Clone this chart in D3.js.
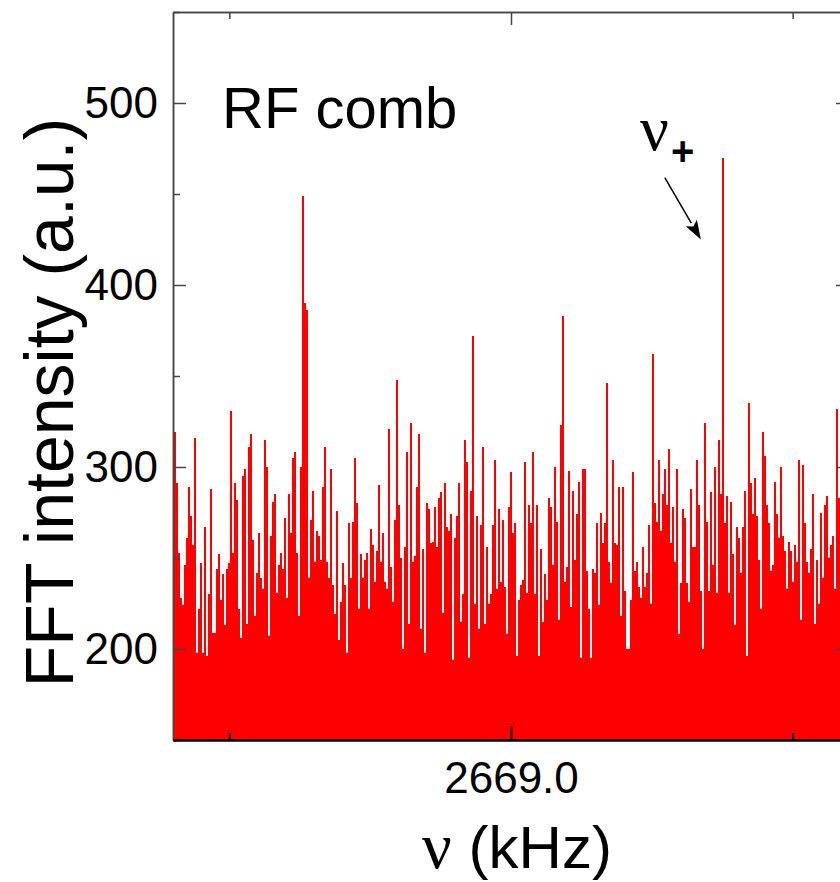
<!DOCTYPE html>
<html><head><meta charset="utf-8">
<script src="https://cdn.jsdelivr.net/npm/d3@7"></script>
<style>body{margin:0;background:#fff;} svg{display:block;}</style>
</head><body><svg id="chart" width="840" height="882"></svg>
<script>
// ---- data ----
const freqStart = 2668.94;   // kHz, left edge of the plotted window
const freqEnd = 2669.06;     // kHz, right edge
const intensity = [
278,319,291,253,228,224,246,261,289,273,
257,316,198,222,247,198,267,196,230,288,
209,209,244,252,227,241,213,244,247,331,
253,291,282,222,206,295,299,214,311,318,
260,218,242,264,239,233,315,300,207,262,
281,285,231,246,253,244,272,228,285,264,
305,308,253,218,300,449,390,386,239,271,
287,248,265,262,249,289,311,248,239,299,
235,219,276,205,226,247,235,198,269,239,
270,305,280,222,252,239,249,253,222,266,
257,237,254,290,248,264,237,233,321,245,
226,271,348,279,250,200,256,308,214,324,
248,251,289,318,211,255,198,280,277,258,
259,278,256,283,286,220,291,267,265,274,
194,261,273,291,215,230,315,303,195,287,
372,225,273,211,268,311,214,256,225,230,
268,304,233,277,237,271,234,208,278,297,
264,269,196,227,235,238,303,231,279,269,
308,230,279,196,255,215,241,227,283,278,
246,300,270,216,323,383,237,245,298,223,
287,249,274,292,195,299,299,243,222,195,
244,242,269,224,275,258,269,346,248,236,
304,258,257,289,218,289,232,200,200,227,
297,243,248,234,228,256,234,242,268,225,
362,280,270,304,265,285,299,279,310,258,
278,248,299,208,236,277,272,236,226,288,
256,256,304,279,232,200,324,270,232,286,
246,300,231,315,285,470,269,284,231,281,
252,213,267,261,242,267,287,196,335,291,
274,294,273,249,222,319,306,279,269,243,
246,292,274,261,300,262,254,233,259,254,
237,257,248,304,216,301,269,248,242,255,
285,214,249,225,275,239,279,284,250,257,
262,233,332,283,249,280,260,255
];
const freqStep = (freqEnd - freqStart) / intensity.length;
const frequency = intensity.map((_, i) => freqStart + i * freqStep);

const yDomain = [150, 550];
const yTicksMajor = [200, 300, 400, 500];
const yTicksMinor = [150, 250, 350, 450, 550];
const xTicksMajor = [2669.0];
const xTicksMinor = [2668.95, 2669.05];
const xTickLabels = ["2669.0"];

const xTitle = ["\u03BD", " (kHz)"];
const yTitle = "FFT intensity (a.u.)";
const panelLabel = "RF comb";
const peakLabel = ["\u03BD", "+"];
// annotation anchor points in data units [kHz, a.u.]
const peakLabelPos = [2669.0229, 474];
const arrowFrom = [2669.0273, 459];
const arrowTo = [2669.0337, 425];
const panelLabelPos = [2668.9487, 486];

// ---- layout ----
const W = 840, H = 882;
const mLeft = 173, mRight = 849, mTop = 12, mBottom = 740;
const sans = "'Liberation Sans', Arial, Helvetica, sans-serif";
const serif = "'Liberation Serif', 'Times New Roman', serif";

const svg = d3.select("#chart");
const x = d3.scaleLinear().domain([freqStart, freqEnd]).range([mLeft, mRight]);
const y = d3.scaleLinear().domain(yDomain).range([mBottom, mTop]);

svg.append("defs").append("clipPath").attr("id", "plotclip")
  .append("rect").attr("x", mLeft).attr("y", mTop)
  .attr("width", mRight - mLeft).attr("height", mBottom - mTop);

const barW = Math.abs(x(freqStart + freqStep) - x(freqStart));
svg.append("g").attr("clip-path", "url(#plotclip)")
  .selectAll("rect").data(intensity).join("rect")
  .attr("x", (d, i) => x(frequency[i]) - barW / 2)
  .attr("width", barW)
  .attr("y", d => y(d))
  .attr("height", d => y(yDomain[0]) - y(d))
  .attr("fill", "#ff0000")
  .attr("shape-rendering", "crispEdges");

// ---- axes ----
function styleAxis(g, color, width) {
  g.select(".domain").attr("stroke", color).attr("stroke-width", width);
  g.selectAll(".tick line").attr("stroke", color).attr("stroke-width", width);
  g.selectAll("text").attr("font-family", sans).attr("font-size", 44).attr("fill", "#000");
}
// left
svg.append("g").attr("transform", `translate(${mLeft},0)`)
  .call(d3.axisLeft(y).tickValues(yTicksMinor).tickSize(-7).tickSizeOuter(0).tickFormat(""))
  .call(g => styleAxis(g, "#444", 1.5));
svg.append("g").attr("transform", `translate(${mLeft},0)`)
  .call(d3.axisLeft(y).tickValues(yTicksMajor).tickSize(-13).tickSizeOuter(0).tickPadding(15).tickFormat(d3.format("d")))
  .call(g => styleAxis(g, "#444", 1.5));
// right
svg.append("g").attr("transform", `translate(${mRight},0)`)
  .call(d3.axisRight(y).tickValues(yTicksMinor).tickSize(-7).tickSizeOuter(0).tickFormat(""))
  .call(g => styleAxis(g, "#444", 1.5));
svg.append("g").attr("transform", `translate(${mRight},0)`)
  .call(d3.axisRight(y).tickValues(yTicksMajor).tickSize(-13).tickSizeOuter(0).tickFormat(""))
  .call(g => styleAxis(g, "#444", 1.5));
// top
svg.append("g").attr("transform", `translate(0,${mTop})`)
  .call(d3.axisTop(x).tickValues(xTicksMinor).tickSize(-7).tickSizeOuter(0).tickFormat(""))
  .call(g => styleAxis(g, "#444", 1.5));
svg.append("g").attr("transform", `translate(0,${mTop})`)
  .call(d3.axisTop(x).tickValues(xTicksMajor).tickSize(-13).tickSizeOuter(0).tickFormat(""))
  .call(g => styleAxis(g, "#444", 1.5));
// bottom
svg.append("g").attr("transform", `translate(0,${mBottom})`)
  .call(d3.axisBottom(x).tickValues(xTicksMinor).tickSize(-7).tickSizeOuter(0).tickFormat(""))
  .call(g => styleAxis(g, "#000", 2));
svg.append("g").attr("transform", `translate(0,${mBottom})`)
  .call(d3.axisBottom(x).tickValues(xTicksMajor).tickSize(-14).tickSizeOuter(0).tickPadding(22)
        .tickFormat((d, i) => xTickLabels[i]))
  .call(g => styleAxis(g, "#000", 2));

// ---- titles ----
const xt = svg.append("text").attr("x", (mLeft + mRight) / 2 + 6).attr("y", 868)
  .attr("text-anchor", "middle").attr("fill", "#000");
xt.append("tspan").attr("font-family", serif).attr("font-size", 66).text(xTitle[0]);
xt.append("tspan").attr("font-family", sans).attr("font-size", 60).text(xTitle[1]);

svg.append("text").attr("transform", `translate(73,${(115 + 690) / 2}) rotate(-90)`)
  .attr("text-anchor", "middle").attr("font-family", sans).attr("font-size", 68)
  .attr("fill", "#000").text(yTitle);

// ---- annotations ----
svg.append("text").attr("x", x(panelLabelPos[0])).attr("y", y(panelLabelPos[1]))
  .attr("font-family", sans).attr("font-size", 58).attr("fill", "#000").text(panelLabel);

const pl = svg.append("text").attr("x", x(peakLabelPos[0])).attr("y", y(peakLabelPos[1]))
  .attr("fill", "#000");
pl.append("tspan").attr("font-family", serif).attr("font-size", 64).text(peakLabel[0]);
pl.append("tspan").attr("font-family", sans).attr("font-weight", "bold").attr("font-size", 40)
  .attr("dx", 2).attr("dy", 15).text(peakLabel[1]);

const ax0 = x(arrowFrom[0]), ay0 = y(arrowFrom[1]), ax1 = x(arrowTo[0]), ay1 = y(arrowTo[1]);
const len = Math.hypot(ax1 - ax0, ay1 - ay0), ux = (ax1 - ax0) / len, uy = (ay1 - ay0) / len;
const headL = 19, headW = 6.5;
const bx = ax1 - ux * headL, by = ay1 - uy * headL;
svg.append("line").attr("x1", ax0).attr("y1", ay0).attr("x2", bx).attr("y2", by)
  .attr("stroke", "#000").attr("stroke-width", 1.5);
svg.append("path")
  .attr("d", `M${ax1},${ay1}L${bx - uy * headW},${by + ux * headW}L${bx + ux * 4},${by + uy * 4}L${bx + uy * headW},${by - ux * headW}Z`)
  .attr("fill", "#000");
</script></body></html>
